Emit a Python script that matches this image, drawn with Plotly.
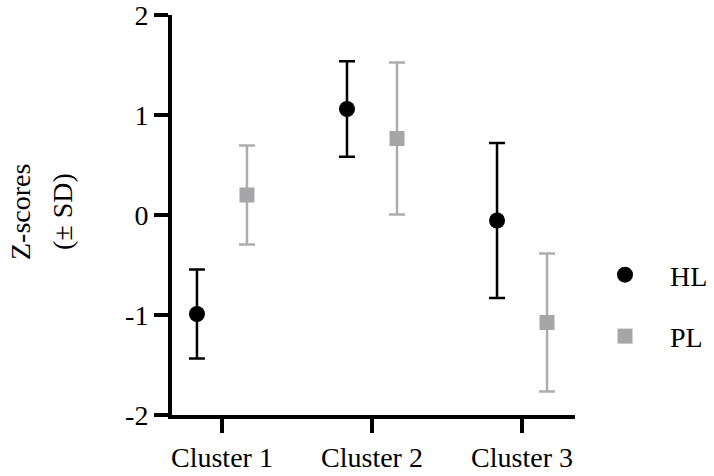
import plotly.graph_objects as go

categories = ["Cluster 1", "Cluster 2", "Cluster 3"]
hl_mean = [-0.99, 1.06, -0.055]
hl_sd = [0.445, 0.477, 0.775]
pl_mean = [0.20, 0.765, -1.075]
pl_sd = [0.495, 0.76, 0.69]
y_ticks = [-2, -1, 0, 1, 2]

FONT = "Liberation Serif"
FS = 28
L, R, T, B = 172, 139, 15, 61
W, H = 714, 476
PW = W - L - R
PH = H - T - B

offset = 1 / 6
idx = list(range(len(categories)))

fig = go.Figure()
fig.add_trace(go.Scatter(
    x=[i - offset for i in idx], y=hl_mean, mode="markers", name="HL",
    legendgroup="hl",
    marker=dict(symbol="circle", size=16, color="black"),
    error_y=dict(type="data", array=hl_sd, visible=True, color="black",
                 thickness=2.5, width=8),
))
fig.add_trace(go.Scatter(
    x=[i + offset for i in idx], y=pl_mean, mode="markers", name="PL",
    legendgroup="pl",
    marker=dict(symbol="square", size=15, color="#a6a6a9"),
    error_y=dict(type="data", array=pl_sd, visible=True, color="#adadad",
                 thickness=2.5, width=8),
))

def px2paper(px):
    return (px - L) / PW

def py2paper(py):
    return 1 - (py - T) / PH

fig.update_layout(
    width=W, height=H,
    margin=dict(l=L, r=R, t=T, b=B, autoexpand=False),
    paper_bgcolor="white", plot_bgcolor="white",
    font=dict(family=FONT, size=FS, color="black"),
    showlegend=True,
    legend=dict(x=px2paper(580), xanchor="left", y=py2paper(305.5), yanchor="middle",
                itemwidth=80, tracegroupgap=22, traceorder="grouped",
                font=dict(family=FONT, size=FS, color="black"),
                bgcolor="rgba(0,0,0,0)"),
    xaxis=dict(range=[-0.333, 2.353], tickvals=idx, ticktext=categories,
               showgrid=False, zeroline=False, showline=True, linecolor="black",
               linewidth=4, ticks="outside", ticklen=14, tickwidth=4,
               tickcolor="black", automargin=False, ticklabeloverflow="allow"),
    yaxis=dict(range=[-2, 2], tickvals=y_ticks, ticktext=[str(v) for v in y_ticks],
               showgrid=False, zeroline=False, showline=True, linecolor="black",
               linewidth=4, ticks="outside", ticklen=14, tickwidth=4,
               tickcolor="black", automargin=False, ticklabeloverflow="allow"),
    annotations=[
        dict(text="Z-scores", x=px2paper(21), y=py2paper(212), xref="paper", yref="paper",
             textangle=-90, showarrow=False, xanchor="center", yanchor="middle",
             font=dict(family=FONT, size=FS, color="black")),
        dict(text="(± SD)", x=px2paper(63), y=py2paper(212), xref="paper", yref="paper",
             textangle=-90, showarrow=False, xanchor="center", yanchor="middle",
             font=dict(family=FONT, size=FS, color="black")),
    ],
)

fig.write_html("out.html", config={"displayModeBar": False},
               post_script="document.body.style.margin='0';")
